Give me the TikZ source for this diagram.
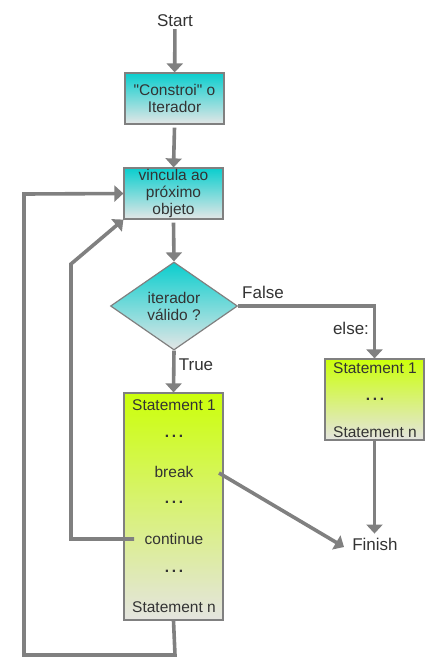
\documentclass[tikz,border=0pt]{standalone}
\usepackage{fontspec}
\setmainfont{Liberation Sans}
\newfontfamily\qfont{Liberation Sans}
\usetikzlibrary{arrows.meta,shapes.geometric}
\definecolor{ln}{RGB}{128,128,128}
\definecolor{txt}{RGB}{51,51,51}
\definecolor{cy}{RGB}{10,206,206}
\definecolor{gr}{RGB}{228,230,230}
\definecolor{yg}{RGB}{204,255,10}
\definecolor{yb}{RGB}{228,228,224}
\begin{document}
\begin{tikzpicture}[x=1pt,y=-1pt,
  conn/.style={draw=ln,line width=3.6pt,-{Triangle[width=16pt,length=9pt]}},
  boxtext/.style={text=txt,font=\fontsize{15.5}{17}\selectfont,inner sep=2pt},
  lbl/.style={text=txt,font=\fontsize{17}{19}\selectfont,inner sep=2pt},
  cybox/.style={draw=ln,line width=1.2pt,top color=cy,bottom color=gr,minimum width=99pt,minimum height=51pt,inner sep=0pt,align=center,text=txt,font=\fontsize{15.5}{17}\selectfont},
  gbox/.style={draw=ln,line width=1.2pt,top color=yg,bottom color=yb,minimum width=99pt,inner sep=0pt},
  dia/.style={diamond,draw=ln,line width=1.2pt,top color=cy,bottom color=gr,minimum width=127pt,minimum height=88pt,aspect=1.44,inner sep=0pt,align=center,text=txt,font=\fontsize{15.5}{17}\selectfont},
  dots/.style={boxtext,font=\fontsize{15.5}{17}\selectfont\bfseries}
]
\useasboundingbox (0,0) rectangle (425,657);
\node[lbl] (start) at (175,21) {Start};
\node[cybox] (b1) at (174.5,98.5) {{\qfont"Constroi" o}\\Iterador};
\node[cybox] (b2) at (173.5,193.5) {vincula ao\\próximo\\objeto};
\node[dia] (d) at (174,306) {iterador\\válido ?};
\node[gbox,minimum height=81pt] (b3) at (374.5,399.5) {};
\node[boxtext] (s31) at (375,368) {Statement 1};
\node[dots] (s3d) at (375,399) {.\hspace{2.6pt}.\hspace{2.6pt}.};
\node[boxtext] (s3n) at (375,432) {Statement n};
\node[gbox,minimum height=227pt] (b4) at (173.5,506.5) {};
\node[boxtext] (s41) at (174,405) {Statement 1};
\node[dots] (s4d1) at (174,436) {.\hspace{2.6pt}.\hspace{2.6pt}.};
\node[boxtext] (brk) at (174,472) {break};
\node[dots] (s4d2) at (174,502) {.\hspace{2.6pt}.\hspace{2.6pt}.};
\node[boxtext] (cont) at (174,539) {continue};
\node[dots] (s4d3) at (174,571) {.\hspace{2.6pt}.\hspace{2.6pt}.};
\node[boxtext] (s4n) at (174,607) {Statement n};
\node[lbl,inner sep=4pt] (fin) at (375,544) {Finish};
\node[lbl] (lfalse) at (263,292) {False};
\node[lbl] (lelse) at (351,328) {else:};
\node[lbl] (ltrue) at (196,365) {True};
\coordinate (brkpt) at (219,473);
\coordinate (finpt) at (344,547);
\coordinate (contpt) at (134,539);
\draw[conn] (start) -- (b1);
\draw[conn] ([yshift=-3pt]b1.south) -- (b2.north);
\draw[conn] ([yshift=-3pt]b2.south) -- (d.north);
\draw[conn] (d.east) -| (b3.north);
\draw[conn] (d.south) -- (b4.north);
\draw[conn] (b3.south) -- (b3.south |- fin.north);
\draw[conn] (brkpt) -- (finpt);
\draw[conn] (contpt) -- (71,539) -- (71,264) -- (b2.south west);
\draw[conn] (b4.south) -- (175,655) -| (24,194) -- (b2.west);
\end{tikzpicture}
\end{document}
